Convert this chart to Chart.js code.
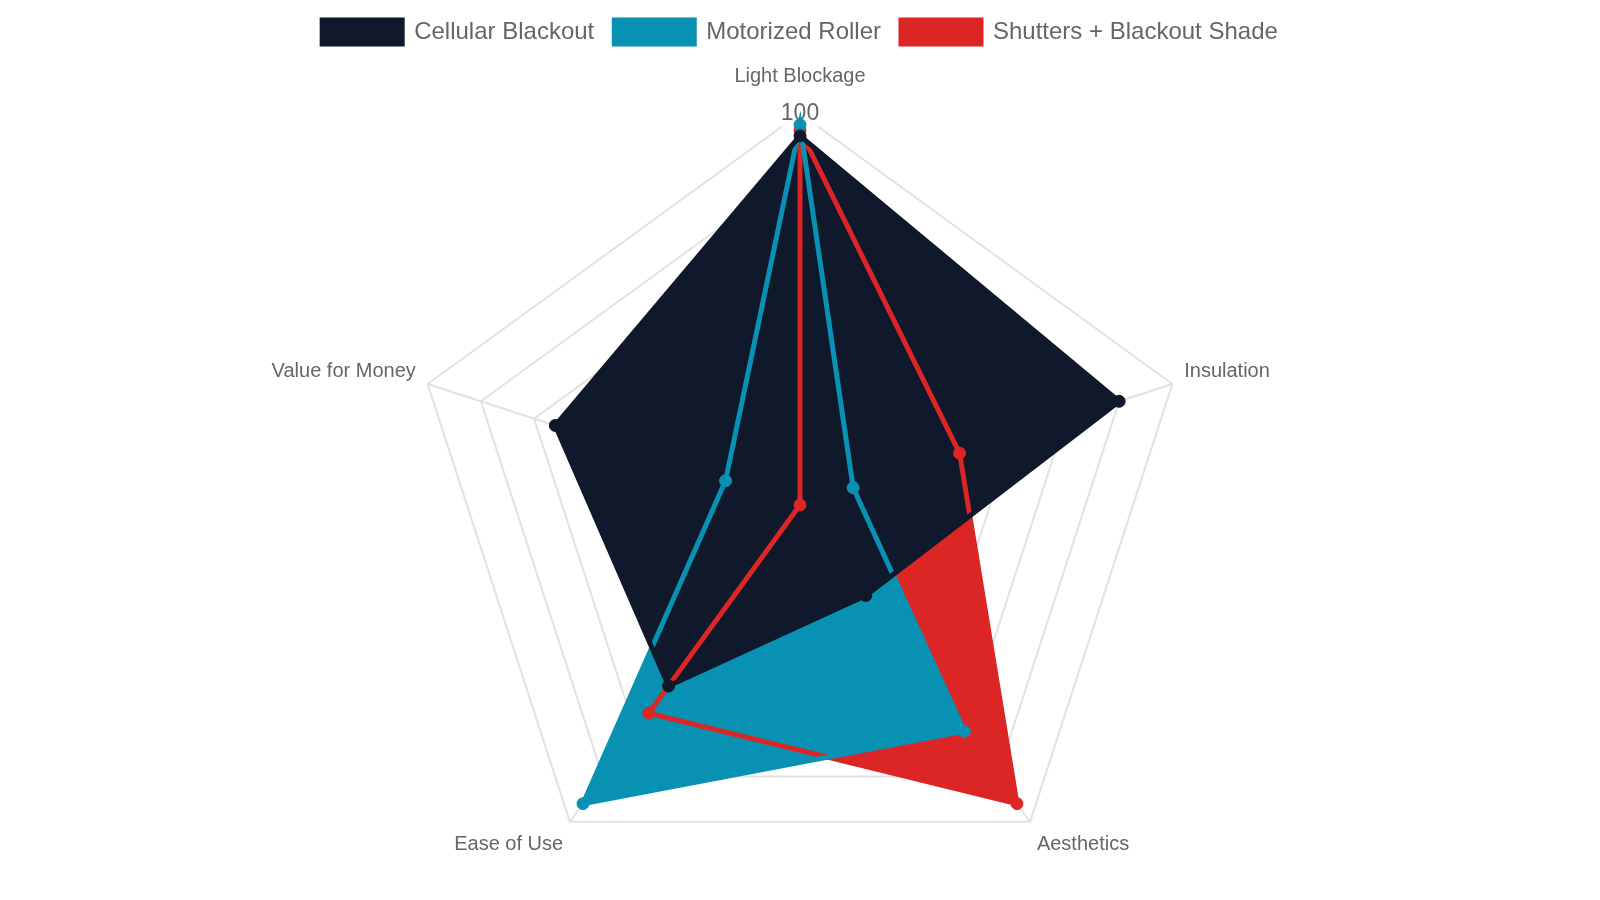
<!DOCTYPE html>
<html>
<head>
<meta charset="utf-8">
<title>Blackout Options Radar</title>
<script src="https://cdn.jsdelivr.net/npm/chart.js@4.4.1/dist/chart.umd.min.js"></script>
<style>
    html, body { margin: 0; padding: 0; background: #ffffff; overflow: hidden; }
    /* a bit taller than the window so the radar can use the bottom edge */
    #wrap { width: 1600px; height: 927px; position: relative; }
</style>
</head>
<body>
<div id="wrap"><canvas id="radarChart"></canvas></div>
<script>
// Criteria (axes) and scores per option
const criteria = ['Light Blockage', 'Insulation', 'Aesthetics', 'Ease of Use', 'Value for Money'];
const cellularScores = [96, 90, 50, 70, 76];
const motorizedScores = [98, 40, 80, 96, 44];
const shuttersScores = [97, 60, 96, 76, 30];

const seriesNames = ['Cellular Blackout', 'Motorized Roller', 'Shutters + Blackout Shade'];
const seriesColors = ['#0f192b', '#0891b2', '#dc2626'];

// Point label placement tweaks, one entry per axis
// (top label sits further out than the rest)
const labelPadding = [17, -1, -2, -2, -1];
const labelLineHeight = [0.7, 0.9, 1.35, 1.35, 0.9];

function makeDataset(label, data, color) {
    return {
        label: label,
        data: data,
        borderColor: color,
        backgroundColor: color,
        pointBackgroundColor: color,
        pointBorderColor: color,
        pointRadius: 6,
        pointBorderWidth: 1,
        borderWidth: 5,
        fill: true
    };
}

const ctx = document.getElementById('radarChart');
window.radarChart = new Chart(ctx, {
    type: 'radar',
    data: {
        labels: criteria,
        datasets: [
            makeDataset(seriesNames[0], cellularScores, seriesColors[0]),
            makeDataset(seriesNames[1], motorizedScores, seriesColors[1]),
            makeDataset(seriesNames[2], shuttersScores, seriesColors[2])
        ]
    },
    options: {
        responsive: true,
        maintainAspectRatio: false,
        animation: false,
        plugins: {
            // all fills first, then every line on top of them
            filler: { drawTime: 'beforeDatasetsDraw' },
            legend: {
                position: 'top',
                labels: {
                    boxWidth: 80,
                    padding: 20,
                    color: '#666',
                    font: { size: 24 }
                }
            },
            tooltip: { enabled: false }
        },
        scales: {
            r: {
                min: 30,
                max: 100,
                ticks: {
                    stepSize: 10,
                    color: '#666',
                    font: { size: 23 }
                },
                grid: { color: '#e2e2e2', lineWidth: 2 },
                angleLines: { color: '#e2e2e2', lineWidth: 2 },
                pointLabels: {
                    color: '#666',
                    font: (c) => ({ size: 20, lineHeight: labelLineHeight[c.index] }),
                    padding: (c) => labelPadding[c.index]
                }
            }
        }
    }
});
</script>
</body>
</html>
